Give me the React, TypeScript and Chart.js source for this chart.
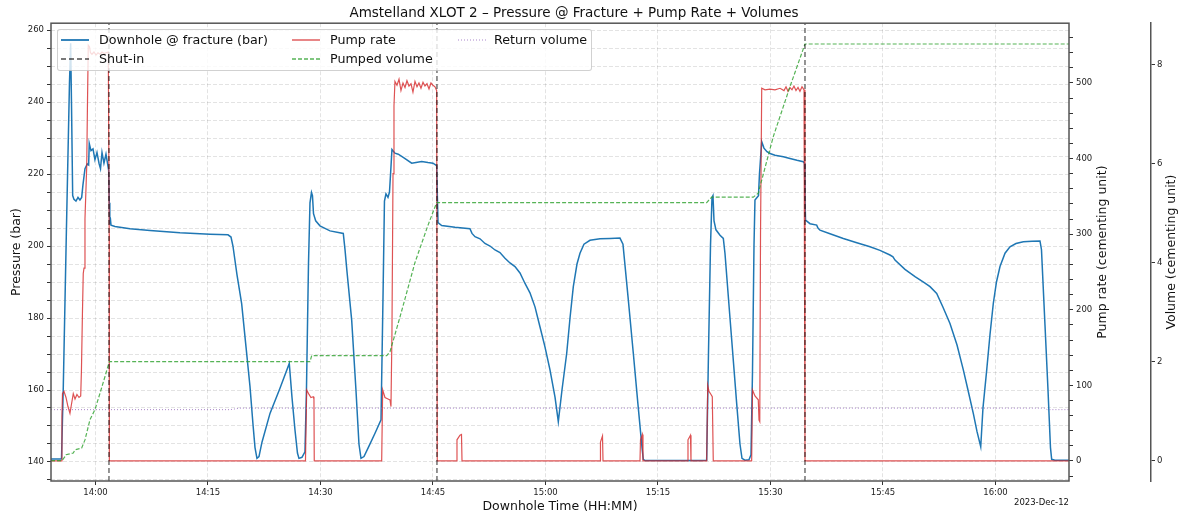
import React, { useEffect, useRef } from "react";
import { Chart, registerables } from "chart.js";

Chart.register(...registerables);

// ---- data (time in minutes since midnight) ----
const pressureTime = [
  834.07, 835.4, 835.47, 835.71, 836.13, 836.53, 836.69, 836.8, 836.96, 837.13,
  837.4, 837.67, 837.93, 838.16, 838.33, 838.6, 838.91, 839.09, 839.17, 839.4,
  839.67, 839.93, 840.2, 840.47, 840.67, 840.87, 841.13, 841.4, 841.6, 841.76,
  841.84, 841.91, 841.97, 842.07, 842.6, 844.6, 847.27, 851.27, 855.27, 857.67,
  858.07, 858.33, 858.87, 859.49, 860.07, 860.6, 861.0, 861.27, 861.53, 861.8,
  862.2, 863.27, 864.6, 865.84, 866.2, 866.6, 866.93, 867.13, 867.53, 867.93,
  868.13, 868.4, 868.6, 868.8, 868.93, 869.07, 869.36, 869.93, 871.27, 873.04,
  873.27, 873.53, 874.16, 874.73, 875.13, 875.4, 875.8, 876.37, 877.27, 878.07,
  878.33, 878.53, 878.73, 879.0, 879.2, 879.4, 879.53, 879.93, 880.37, 881.13,
  882.16, 882.73, 883.49, 884.33, 885.0, 885.49, 885.57, 885.67, 886.16, 887.93,
  889.93, 890.2, 890.6, 891.27, 891.93, 892.6, 893.27, 893.93, 894.6, 895.27,
  895.93, 896.6, 897.27, 897.93, 898.6, 899.27, 899.93, 900.6, 901.27, 901.71,
  902.2, 902.83, 903.27, 903.71, 904.2, 904.6, 905.13, 905.93, 907.27, 908.6,
  909.93, 910.33, 911.0, 911.71, 912.33, 912.87, 913.04, 913.27, 920.6, 921.49,
  921.73, 922.0, 922.2, 922.33, 922.47, 922.73, 923.27, 923.71, 923.93, 924.6,
  925.49, 925.93, 926.2, 926.6, 927.13, 927.4, 927.6, 927.8, 927.93, 928.2,
  928.4, 928.53, 928.83, 929.13, 929.53, 929.93, 930.6, 931.71, 932.6, 933.53,
  934.37, 934.53, 934.6, 934.67, 935.27, 936.16, 936.33, 936.6, 937.93, 939.71,
  941.4, 943.27, 944.6, 945.93, 946.33, 946.6, 947.93, 949.27, 950.6, 951.27,
  952.16, 953.0, 953.93, 954.87, 955.71, 956.33, 957.04, 957.53, 958.03, 958.33,
  958.83, 959.27, 959.71, 960.13, 960.6, 961.27, 961.93, 962.73, 963.71, 964.87,
  965.93, 966.13, 966.6, 967.0, 967.33, 967.49, 967.93, 969.8,
];
const pressureBar = [
  140.8, 140.8, 141, 161, 205, 245, 256.3, 240, 214, 213,
  212.5, 213.5, 212.8, 213.5, 217, 221.5, 222.8, 222.5, 228.5, 226.5,
  227, 224, 226, 223, 221.5, 226, 223, 225.5, 223, 221,
  212, 206, 208, 205.8, 205.4, 204.8, 204.3, 203.7, 203.3, 203.1,
  202.5, 200, 192, 184, 172, 161, 150.5, 144, 141, 141.5,
  145.5, 153.5, 160.5, 167.4, 158, 148.9, 142.5, 141, 141.3, 142.8,
  160, 195, 212, 214.9, 214, 209, 207, 205.6, 204.2, 203.5,
  199, 193, 179.4, 160, 145, 141, 141.5, 144, 148, 151.7,
  185, 212.5, 214.5, 213.5, 215, 222, 226.8, 225.8, 225.5, 224.5,
  223, 223.2, 223.5, 223.2, 223, 222.3, 215, 206.5, 205.7, 205.2,
  204.8, 203.5, 202.6, 202, 200.7, 200, 198.9, 198.2, 196.6, 195.3,
  194.3, 192.5, 189.6, 187, 183.1, 177.5, 172, 165.6, 158, 151.2,
  160, 170.2, 180, 188.7, 195, 198, 200.5, 201.6, 202, 202.1,
  202.2, 200.5, 186, 170.2, 156, 144, 140.75, 140.4, 140.4, 140.5,
  170, 200, 213.5, 214, 207, 204.5, 203, 202.1, 198, 180,
  156.3, 145, 141, 140.5, 140.6, 142, 165, 200, 212.8, 213.5,
  214, 220, 229, 227.2, 226.2, 225.7, 225.2, 224.8, 224.3, 223.8,
  223.4, 223, 214, 207.2, 206.2, 205.8, 205, 204.4, 203.4, 202.1,
  201, 199.8, 198.8, 197.5, 197, 196.1, 193.5, 191.5, 189.7, 188.7,
  186.8, 183, 178.5, 172.5, 165.6, 160, 153.5, 148.5, 144.25, 155,
  165.6, 175.5, 184.1, 190, 194.3, 198, 199.8, 200.7, 201.2, 201.3,
  201.4, 199, 178, 160, 144, 140.75, 140.5, 140.5,
];

const pumpTime = [
  834.07, 835.47, 835.53, 835.6, 835.8, 836.07, 836.33, 836.6, 836.8, 837.04,
  837.27, 837.53, 837.8, 838.03, 838.13, 838.27, 838.37, 838.47, 838.6, 838.83,
  838.93, 839.04, 839.2, 839.33, 839.53, 839.8, 840.07, 840.33, 840.6, 840.87,
  841.13, 841.4, 841.71, 841.83, 841.85,
  868.0, 868.16, 868.47, 868.73, 869.04, 869.13, 869.17,
  878.16, 878.29, 878.6, 879.0, 879.27, 879.4, 879.53, 879.67, 879.8, 879.93,
  880.2, 880.47, 880.73, 881.0, 881.27, 881.53, 881.8, 882.07, 882.33, 882.6,
  882.87, 883.13, 883.4, 883.67, 883.93, 884.2, 884.47, 884.73, 885.0, 885.27,
  885.49, 885.57,
  888.13, 888.2, 888.6, 888.8, 888.87,
  907.27, 907.33, 907.6, 907.67,
  912.6, 912.67, 912.91, 913.0,
  918.93, 919.0, 919.33, 919.4,
  921.49, 921.63, 921.8, 922.07, 922.24, 922.37,
  927.49, 927.6, 927.93, 928.37, 928.47, 928.57, 928.67, 928.83, 929.27, 929.93,
  930.6, 931.27, 931.8, 932.07, 932.33, 932.6, 932.87, 933.13, 933.4, 933.67,
  933.93, 934.2, 934.47, 934.6, 969.8,
];
const pumpRate = [
  0, 0, 60, 89, 92, 84, 72, 63, 75, 89,
  82, 88, 84, 86, 120, 200, 248, 255, 320, 389,
  470, 550, 548, 540, 538, 541, 537, 540, 538, 541,
  539, 540, 541, 300, 0,
  0, 94, 88, 84, 85, 82, 0,
  0, 94, 84, 82, 80.7, 72, 170, 380, 470, 502,
  497, 505, 490, 500, 494, 503, 496, 499, 488, 502,
  495, 500, 493, 501, 496, 499, 492, 500, 497, 495,
  490, 0,
  0, 28, 34, 35, 0,
  0, 25, 33, 0,
  0, 28, 35, 0,
  0, 28, 34, 0,
  0, 100, 92, 88, 85, 0,
  0, 94, 86, 81, 54, 52, 300, 493, 491, 492,
  491, 493, 490, 495, 489, 494, 491, 496, 490, 494,
  489, 495, 491, 0, 0,
];

const pumpedTime = [
  834.07, 835.53, 835.93, 836.07, 837.04, 837.27, 838.16, 838.6, 839.27, 839.93,
  840.6, 841.27, 841.84, 868.6, 868.83, 878.83, 879.27, 880.6, 882.6, 884.33,
  885.49, 921.49, 922.16, 927.71, 928.37, 930.37, 932.6, 934.6, 969.8,
];
const pumpedVolume = [
  0, 0, 0.08, 0.12, 0.155, 0.22, 0.256, 0.42, 0.83, 1.03,
  1.36, 1.7, 2.0, 2.0, 2.12, 2.12, 2.2, 2.9, 4.0, 4.75,
  5.21, 5.21, 5.32, 5.32, 5.4, 6.54, 7.55, 8.41, 8.41,
];

const returnTime = [834.07, 857.93, 859.27, 966.6, 966.87, 969.8];
const returnVolume = [1.03, 1.03, 1.06, 1.06, 1.03, 1.03];

const shutInTimes = [841.8, 885.53, 934.6];

const X_MIN = 834.07;
const X_MAX = 969.8;
const P_MIN = 134.72;
const P_MAX = 261.9;
const R_MIN = -26.5;
const R_MAX = 579.1;
const V_MIN = -0.41;
const V_MAX = 8.83;

const TITLE = "Amstelland XLOT 2 \u2013 Pressure @ Fracture + Pump Rate + Volumes";
const DATE_LABEL = "2023-Dec-12";

const BLUE = "#1f77b4";
const RED = "rgba(214,39,40,0.8)";
const GREEN = "rgba(44,160,44,0.8)";
const PURPLE = "rgba(148,103,189,0.8)";
const BLACK = "rgba(0,0,0,0.7)";
const FONT = "'DejaVu Sans', sans-serif";
const TICK_SIZE = 8.5;

const zip = (t: number[], v: number[]) => t.map((x, i) => ({ x, y: v[i] }));

const fmtTime = (v: number) => {
  const h = Math.floor(v / 60 + 1e-9);
  const m = Math.round(v - h * 60);
  return `${h}:${String(m).padStart(2, "0")}`;
};

const decorPlugin = {
  id: "decor",
  afterDatasetsDraw(chart: any) {
    const { ctx, chartArea: a } = chart;
    ctx.save();
    ctx.strokeStyle = "#555";
    ctx.lineWidth = 1.5;
    ctx.setLineDash([]);
    ctx.strokeRect(a.left, a.top, a.right - a.left, a.bottom - a.top);
    ctx.restore();
  },
  afterDraw(chart: any) {
    const { ctx, chartArea: a } = chart;
    ctx.save();
    ctx.fillStyle = "#111";
    ctx.textAlign = "center";
    ctx.textBaseline = "middle";
    ctx.font = `13.5px ${FONT}`;
    ctx.fillText(TITLE, 574, 13);
    const cy = (a.top + a.bottom) / 2;
    ctx.font = `12.5px ${FONT}`;
    ctx.save();
    ctx.translate(1103, cy);
    ctx.rotate(-Math.PI / 2);
    ctx.fillText("Pump rate (cementing unit)", 0, 0);
    ctx.restore();
    ctx.save();
    ctx.translate(1172, cy);
    ctx.rotate(-Math.PI / 2);
    ctx.fillText("Volume (cementing unit)", 0, 0);
    ctx.restore();
    ctx.font = `${TICK_SIZE}px ${FONT}`;
    ctx.textAlign = "right";
    ctx.fillText(DATE_LABEL, a.right, 503);
    ctx.restore();
  },
};

const gridCommon = {
  color: "rgba(0,0,0,0.14)",
  lineWidth: 0.8,
  tickLength: 4,
  tickColor: "#333",
  tickWidth: 1,
};

function LegendItem(props: {
  x: number;
  y: number;
  tx: number;
  color: string;
  dash?: string;
  width: number;
  label: string;
}) {
  const { x, y, tx, color, dash, width, label } = props;
  return (
    <>
      <svg
        width={28}
        height={10}
        style={{ position: "absolute", left: x, top: y - 5 }}
      >
        <line
          x1={0}
          y1={5}
          x2={28}
          y2={5}
          stroke={color}
          strokeWidth={width}
          strokeDasharray={dash}
        />
      </svg>
      <div
        style={{
          position: "absolute",
          left: tx,
          top: y - 8,
          height: 16,
          lineHeight: "16px",
          fontFamily: FONT,
          fontSize: 12.7,
          color: "#111",
          whiteSpace: "nowrap",
        }}
      >
        {label}
      </div>
    </>
  );
}

export default function App() {
  const canvasRef = useRef<HTMLCanvasElement | null>(null);

  useEffect(() => {
    if (!canvasRef.current) return;
    Chart.defaults.font.family = FONT;
    Chart.defaults.color = "#222";

    const shutData: any[] = [];
    shutInTimes.forEach((t) => {
      shutData.push({ x: t, y: P_MIN }, { x: t, y: P_MAX }, { x: t, y: null });
    });

    const chart = new Chart(canvasRef.current, {
      type: "line",
      data: {
        datasets: [
          {
            label: "Shut-in",
            data: shutData,
            yAxisID: "y",
            borderColor: BLACK,
            borderWidth: 1.2,
            borderDash: [5, 3],
            spanGaps: false,
            order: 1,
          },
          {
            label: "Pumped volume",
            data: zip(pumpedTime, pumpedVolume),
            yAxisID: "y2",
            borderColor: GREEN,
            borderWidth: 1.2,
            borderDash: [4, 2],
            order: 2,
          },
          {
            label: "Return volume",
            data: zip(returnTime, returnVolume),
            yAxisID: "y2",
            borderColor: PURPLE,
            borderWidth: 1,
            borderDash: [1, 2],
            order: 3,
          },
          {
            label: "Pump rate",
            data: zip(pumpTime, pumpRate),
            yAxisID: "y1",
            borderColor: RED,
            borderWidth: 1.2,
            order: 4,
          },
          {
            label: "Downhole @ fracture (bar)",
            data: zip(pressureTime, pressureBar),
            yAxisID: "y",
            borderColor: BLUE,
            borderWidth: 1.5,
            order: 5,
          },
        ] as any,
      },
      options: {
        animation: false,
        responsive: false,
        devicePixelRatio: 1,
        layout: { padding: { top: 23.2, left: 0, right: 0, bottom: 0 } },
        elements: {
          point: { radius: 0, hoverRadius: 0 },
          line: { tension: 0, fill: false },
        },
        plugins: {
          legend: { display: false },
          tooltip: { enabled: false },
          title: { display: false },
        },
        scales: {
          x: {
            type: "linear",
            min: X_MIN,
            max: X_MAX,
            ticks: {
              stepSize: 15,
              includeBounds: false,
              autoSkip: false,
              maxRotation: 0,
              padding: 2.5,
              font: { size: TICK_SIZE },
              color: "#222",
              callback: (v: any) => fmtTime(Number(v)),
            },
            grid: { ...gridCommon },
            border: { display: false, dash: [4, 2] },
            title: {
              display: true,
              text: "Downhole Time (HH:MM)",
              font: { size: 12.5 },
              color: "#111",
              padding: { top: 0, bottom: 1 },
            },
            afterFit: (s: any) => {
              s.height = 34;
            },
          },
          y: {
            type: "linear",
            position: "left",
            min: P_MIN,
            max: P_MAX,
            ticks: {
              stepSize: 5,
              includeBounds: false,
              autoSkip: false,
              padding: 3,
              font: { size: TICK_SIZE },
              color: "#222",
              callback: (v: any) =>
                Math.abs(Number(v) % 20) < 1e-6 ? String(v) : "",
            },
            grid: { ...gridCommon },
            border: { display: false, dash: [4, 2] },
            title: {
              display: true,
              text: "Pressure (bar)",
              font: { size: 12.5 },
              color: "#111",
              padding: { top: 9, bottom: 0 },
            },
            afterFit: (s: any) => {
              s.width = 51;
            },
          },
          y1: {
            type: "linear",
            position: "right",
            min: R_MIN,
            max: R_MAX,
            ticks: {
              stepSize: 20,
              includeBounds: false,
              autoSkip: false,
              padding: 3,
              font: { size: TICK_SIZE },
              color: "#222",
              callback: (v: any) =>
                Math.abs(Number(v) % 100) < 1e-6 ? String(v) : "",
            },
            grid: { ...gridCommon, drawOnChartArea: false },
            border: { display: false },
            afterFit: (s: any) => {
              s.width = 82;
            },
          },
          y2: {
            type: "linear",
            position: "right",
            min: V_MIN,
            max: V_MAX,
            ticks: {
              stepSize: 2,
              includeBounds: false,
              autoSkip: false,
              padding: 2,
              font: { size: TICK_SIZE },
              color: "#222",
              callback: (v: any) => String(v),
            },
            grid: { ...gridCommon, drawOnChartArea: false },
            border: { display: true, color: "#555", width: 1.5 },
            afterFit: (s: any) => {
              s.width = 31;
            },
          },
        },
      } as any,
      plugins: [decorPlugin],
    });

    return () => {
      chart.destroy();
    };
  }, []);

  return (
    <div
      style={{
        position: "fixed",
        left: 0,
        top: 0,
        width: 1182,
        height: 515,
        background: "#fff",
      }}
    >
      <canvas
        ref={canvasRef}
        width={1182}
        height={515}
        style={{ display: "block", width: 1182, height: 515 }}
      />
      <div
        style={{
          position: "absolute",
          left: 57,
          top: 29,
          width: 535,
          height: 42,
          boxSizing: "border-box",
          border: "1px solid rgba(0,0,0,0.18)",
          borderRadius: 3,
          background: "rgba(255,255,255,0.8)",
        }}
      />
      <LegendItem x={61} y={40} tx={99} color={BLUE} width={1.8} label="Downhole @ fracture (bar)" />
      <LegendItem x={61} y={59} tx={99} color={BLACK} width={1.3} dash="5 3" label="Shut-in" />
      <LegendItem x={292} y={40} tx={330} color={RED} width={1.4} label="Pump rate" />
      <LegendItem x={292} y={59} tx={330} color={GREEN} width={1.4} dash="4 2" label="Pumped volume" />
      <LegendItem x={458} y={40} tx={494} color={PURPLE} width={1.2} dash="1 2" label="Return volume" />
    </div>
  );
}
